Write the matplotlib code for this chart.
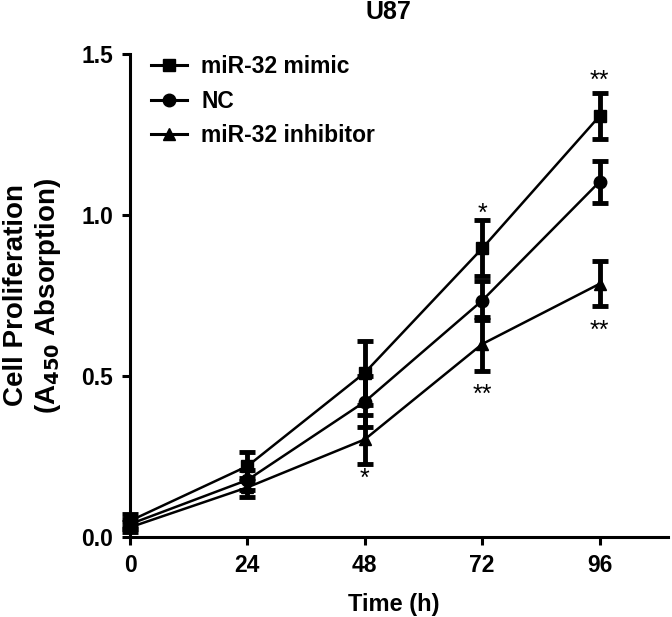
import matplotlib
matplotlib.use('Agg')
import matplotlib.pyplot as plt
from matplotlib.lines import Line2D
import numpy as np

plt.rcParams['font.family'] = ['Liberation Sans', 'DejaVu Sans']
plt.rcParams['font.weight'] = 'bold'
plt.rcParams['mathtext.default'] = 'bf'

# data
hours = [0, 24, 48, 72, 96]
mimic = [0.05, 0.22, 0.51, 0.896, 1.307]
mimic_err = [0.02, 0.045, 0.10, 0.087, 0.072]
nc = [0.04, 0.177, 0.42, 0.734, 1.103]
nc_err = [0.015, 0.03, 0.08, 0.06, 0.065]
inhib = [0.03, 0.154, 0.303, 0.599, 0.786]
inhib_err = [0.015, 0.03, 0.075, 0.083, 0.07]

# significance marks: (x, y, text)
stars = [(48, 0.18, '*'), (72, 1.005, '*'), (72, 0.44, '**'),
         (96, 1.415, '**'), (96, 0.64, '**')]

fig = plt.figure(figsize=(6.72, 6.17), dpi=100)
ax = fig.add_axes([0.1935, 0.1297, 0.8005, 0.7828])

series = [(mimic, mimic_err, 's', 'miR-32 mimic'),
          (nc, nc_err, 'o', 'NC'),
          (inhib, inhib_err, '^', 'miR-32 inhibitor')]
handles = []
for vals, errs, mk, lab in series:
    ax.errorbar(hours, vals, yerr=errs, color='black', marker=mk, markersize=9,
                linewidth=1.8, elinewidth=3.5, capsize=6, capthick=3.5,
                clip_on=False, zorder=3)
    handles.append(Line2D([], [], color='black', marker=mk, markersize=9,
                          linewidth=2.2, label=lab))

for x, y, t in stars:
    ax.text(x, y, t, ha='center', va='center', fontsize=18, fontweight='normal')

ax.set_xlim(0, 110)
ax.set_ylim(0, 1.5)
ax.set_xticks(hours)
ax.set_yticks([0.0, 0.5, 1.0, 1.5])
ax.set_yticklabels(['0.0', '0.5', '1.0', '1.5'])
for s in ['top', 'right']:
    ax.spines[s].set_visible(False)
for s in ['left', 'bottom']:
    ax.spines[s].set_linewidth(2.2)
ax.tick_params(width=2.2, length=6, labelsize=16.5, direction='out', pad=6)
for lbl in ax.get_xticklabels() + ax.get_yticklabels():
    lbl.set_fontweight('bold')

ax.set_xlabel('Time (h)', fontsize=17, fontweight='bold')
ax.xaxis.set_label_coords(0.49, -0.115)
ax.set_ylabel('Cell Proliferation\n(A$_{450}$ Absorption)', fontsize=20,
              fontweight='bold', linespacing=1.15)
ax.yaxis.set_label_coords(-0.125, 0.5)
ax.set_title('U87', fontsize=18, fontweight='bold', y=1.055)
ax.title.set_position((0.48, 1.055))

leg = ax.legend(handles=handles, loc='upper left', bbox_to_anchor=(0.0, 1.04),
                frameon=False, fontsize=16.5, handlelength=1.6,
                labelspacing=0.5, handletextpad=0.6)
for t in leg.get_texts():
    t.set_fontweight('bold')

fig.savefig('out.png', dpi=100)
